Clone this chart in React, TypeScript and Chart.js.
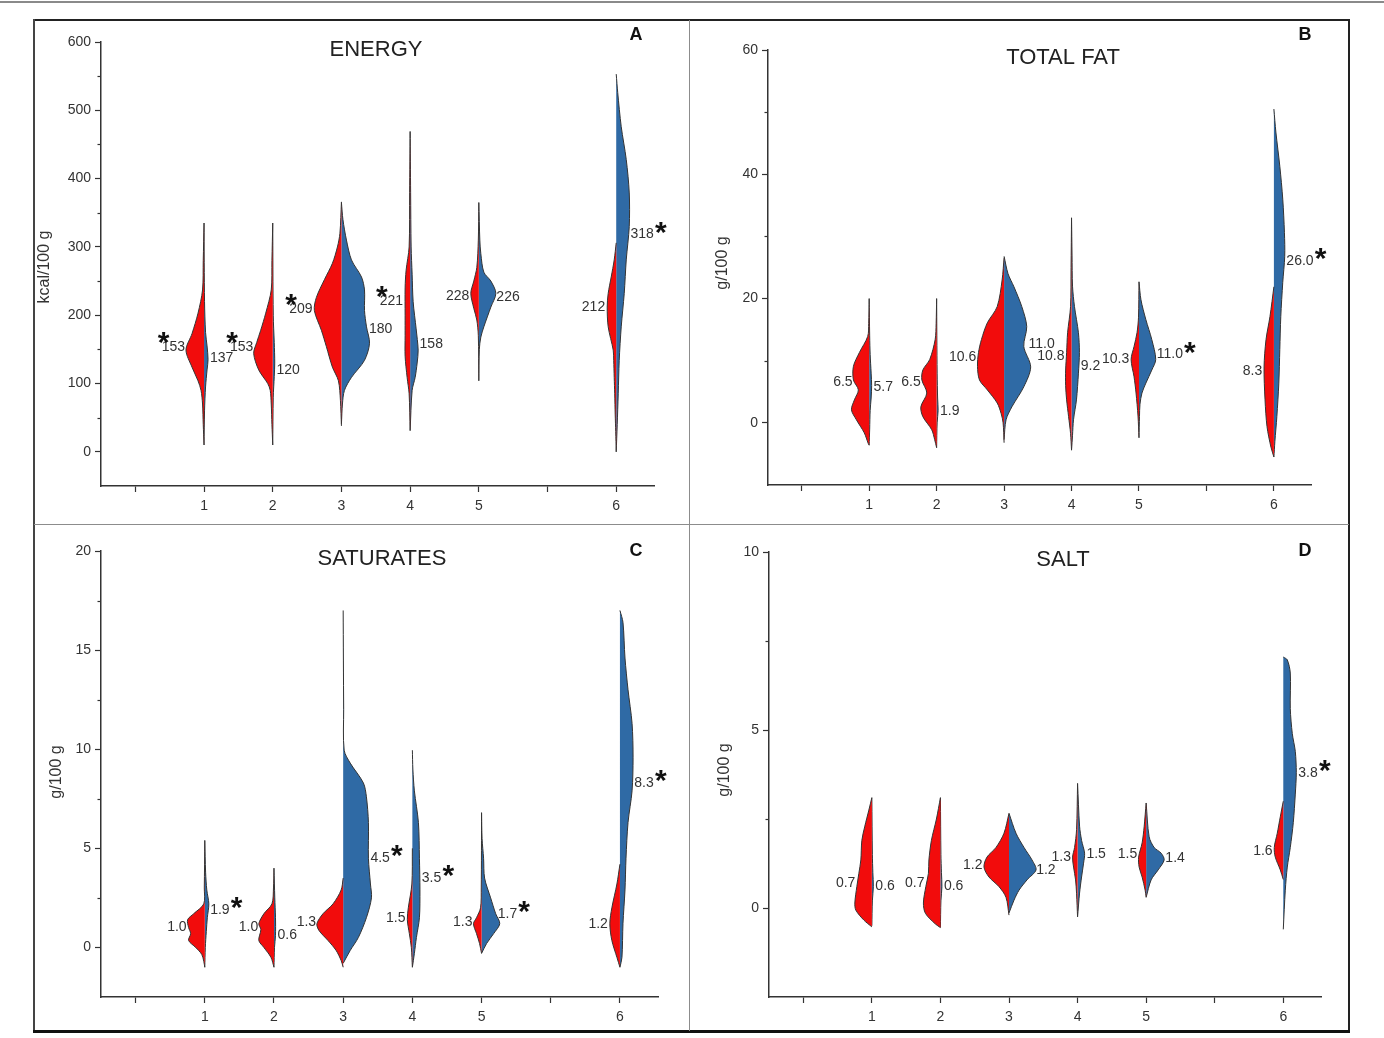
import { useEffect, useRef } from 'react';
import { Chart, registerables } from 'chart.js';

Chart.register(...registerables);

// ---------- shared axis data ----------
const X_TICKS = [0, 1, 2, 3, 4, 5, 6, 7];
const X_TICK_LABELS = ['', '1', '2', '3', '4', '5', '', '6'];
const CATEGORY_POSITIONS = [1, 2, 3, 4, 5, 7];
const DENSITY_PER_CATEGORY = 68.5;

// ---------- A: ENERGY (kcal/100 g) ----------
const energyTicks = [0, 100, 200, 300, 400, 500, 600];
const energyMinor = [50, 150, 250, 350, 450, 550];
const energyRed = [
  [[10, 0], [40, 0.8], [70, 1.5], [90, 3], [104, 6], [124, 12], [149, 18], [173, 12], [203, 6], [237, 1.5], [280, 0.8], [335, 0]],
  [[10, 0], [40, 0.8], [70, 1.5], [90, 2.5], [100, 5], [120, 14], [144, 19], [160, 16], [178, 12], [203, 7], [237, 1.5], [280, 0.8], [335, 0]],
  [[38, 0], [75, 1], [104, 3], [124, 9], [154, 15], [178, 20], [207, 27], [226, 25], [252, 17], [276, 9], [300, 4], [320, 1.5], [366, 0]],
  [[31, 0], [85, 1], [109, 3], [140, 5], [170, 5], [200, 5], [240, 5], [266, 4], [300, 1], [380, 0.5], [469, 0]],
  [[104, 0], [170, 0.5], [193, 2], [210, 5], [232, 8], [250, 5], [270, 2], [310, 0.5], [365, 0]],
  [[0, 0], [30, 0.5], [54, 1], [85, 1.5], [109, 2], [134, 2.5], [149, 3], [183, 8], [212, 9], [232, 8], [256, 5], [281, 2], [306, 0]],
];
const energyBlue = [
  [[10, 0], [60, 0.5], [95, 1.5], [120, 3], [135, 4], [155, 3], [175, 1.5], [220, 0.5], [335, 0]],
  [[10, 0], [80, 0.5], [110, 1.5], [130, 2], [160, 1.5], [200, 0.5], [335, 0]],
  [[41, 0], [70, 1], [90, 3], [109, 10], [134, 23], [159, 28], [183, 25], [207, 23], [237, 23], [256, 20], [281, 10], [310, 5], [340, 1.5], [365, 0]],
  [[31, 0], [90, 2], [109, 5], [130, 7], [149, 8], [180, 6], [220, 3], [260, 2], [300, 1], [380, 0.5], [469, 0]],
  [[104, 0], [150, 0.5], [168, 2], [183, 5], [212, 12], [232, 17], [250, 12], [263, 5], [290, 2], [310, 1], [365, 0]],
  [[0, 0], [40, 1], [85, 2], [134, 3], [183, 5], [232, 8], [281, 10], [330, 13], [379, 13], [428, 10], [476, 5], [526, 1.5], [553, 0]],
];
const energyRedMedian = [153, 153, 209, 221, 228, 212];
const energyBlueMedian = [137, 120, 180, 158, 226, 318];
const energyRedStar = [true, true, true, true, false, false];
const energyBlueStar = [false, false, false, false, false, true];

// ---------- B: TOTAL FAT (g/100 g) ----------
const fatTicks = [0, 20, 40, 60];
const fatMinor = [10, 30, 50];
const fatRed = [
  [[-3.6, 0], [-3.3, 1], [-1.6, 5], [0.5, 13], [2.1, 18], [3.7, 15], [5.3, 11], [6.9, 16], [9.1, 16], [11.3, 10], [13.9, 1.5], [16, 0.5], [20, 0]],
  [[-4, 0], [-2.7, 2], [-1.1, 5], [1.0, 14], [2.6, 16], [4.8, 10], [6.9, 15], [8.5, 14], [10.2, 7], [13.4, 1.5], [16, 0.5], [20, 0]],
  [[-3.2, 0], [0, 1], [1.5, 3], [3.2, 7], [5.3, 17], [6.9, 25], [9.1, 27], [11.3, 26], [13.4, 23], [16.1, 17], [18.7, 7], [23, 2], [26.6, 0]],
  [[-4.4, 0], [-1.7, 1], [1, 3], [3.7, 5], [6, 6], [8.5, 6], [11.3, 5], [14.5, 4], [18.7, 1], [25, 0.5], [33, 0]],
  [[-2.4, 0], [1.1, 1], [4.8, 3], [7.4, 5], [10.2, 8], [12.3, 5], [14.5, 2], [17, 0.5], [22.7, 0]],
  [[-5.5, 0], [-3.9, 3], [-0.6, 7], [3.7, 9], [9.0, 10], [13.4, 8], [17.1, 4], [21.9, 0]],
];
const fatBlue = [
  [[-3.6, 0], [-1, 0.5], [2, 1], [4, 2], [6, 2.5], [8, 2], [11, 1], [14, 0.5], [20, 0]],
  [[-4, 0], [0, 0.5], [2, 1.5], [4, 1], [8, 0.5], [20, 0]],
  [[-2.7, 0], [0.5, 2], [2.6, 8], [5.8, 20], [9.0, 27], [12.3, 20], [15.5, 23], [18.7, 18], [21.9, 10], [24, 4], [26.8, 0]],
  [[-4.4, 0], [-2, 1], [0.5, 2], [3.7, 5], [8, 7], [11.3, 8], [14.5, 7], [18.7, 3], [22, 1], [27, 0.5], [33, 0]],
  [[-2.4, 0], [1, 0.5], [3, 1], [4.8, 3], [6.4, 7], [8.5, 13], [10.2, 17], [13.4, 13], [16.6, 7], [19.8, 2], [22.7, 0]],
  [[-5.5, 0], [-3, 1], [1, 3], [6.4, 5], [11.8, 6], [17.1, 7], [22.6, 9], [26.8, 11], [30.6, 10.7], [36, 9], [41.3, 6], [46.8, 2], [50.5, 0]],
];
const fatRedMedian = [6.5, 6.5, 10.6, 10.8, 10.3, 8.3];
const fatBlueMedian = [5.7, 1.9, 11.0, 9.2, 11.0, 26.0];
const fatRedStar = [false, false, false, false, false, false];
const fatBlueStar = [false, false, false, false, true, true];

// ---------- C: SATURATES (g/100 g) ----------
const satTicks = [0, 5, 10, 15, 20];
const satMinor = [2.5, 7.5, 12.5, 17.5];
const satRed = [
  [[-1, 0], [-0.7, 1], [-0.35, 3], [0, 9], [0.35, 16], [0.7, 14], [1.0, 16], [1.4, 17], [1.7, 11], [2.2, 1], [3, 0.5], [5.4, 0]],
  [[-1, 0], [-0.5, 3], [0, 10], [0.35, 15], [0.9, 13], [1.2, 15], [1.7, 10], [2.2, 2], [3, 0.5], [4, 0]],
  [[-1, 0], [-0.66, 2], [-0.15, 7], [0.35, 15], [0.86, 24], [1.2, 26], [1.7, 20], [2.2, 10], [2.9, 2], [3.5, 0]],
  [[-1, 0], [0, 1], [0.7, 3], [1.4, 5], [2.0, 4], [3.2, 0.5], [5, 0]],
  [[-0.3, 0], [0.2, 2], [0.7, 5], [1.2, 8], [1.5, 5], [2.0, 1], [3, 0.3], [6.8, 0]],
  [[-1, 0], [-0.5, 3], [0.35, 8], [1.2, 10], [2.0, 8], [3.2, 3], [4.2, 0]],
];
const satBlue = [
  [[-1, 0], [0, 0.5], [0.8, 1.5], [1.5, 2.5], [2.2, 4], [2.9, 2], [3.8, 0.8], [5.4, 0]],
  [[-1, 0], [0, 0.5], [0.6, 1.5], [1.5, 1.5], [2.5, 0.8], [4, 0]],
  [[-0.8, 0], [-0.15, 7], [0.5, 15], [1.5, 23], [2.5, 28], [3.2, 27], [4.5, 25], [6.3, 25], [7.6, 23], [8.3, 20], [9.3, 7], [9.95, 1], [12, 0.5], [17, 0]],
  [[-1, 0], [-0.3, 2], [0.5, 4], [1.5, 7], [2.9, 7.5], [4.5, 7], [6.3, 6], [7.9, 2], [9, 0.5], [9.95, 0]],
  [[-0.3, 0], [0.2, 5], [0.7, 12], [1.2, 18], [1.7, 14], [2.5, 9], [3.5, 3], [4.5, 2], [5.5, 0.5], [6.8, 0]],
  [[-1, 0], [-0.5, 2], [1.2, 3], [2.9, 5], [4.5, 6], [6.3, 8], [7.9, 12], [9.6, 13], [11.3, 12], [13, 8], [14.6, 5], [16.4, 3], [17, 0]],
];
const satRedMedian = [1.0, 1.0, 1.3, 1.5, 1.3, 1.2];
const satBlueMedian = [1.9, 0.6, 4.5, 3.5, 1.7, 8.3];
const satRedStar = [false, false, false, false, false, false];
const satBlueStar = [true, false, true, true, true, true];

// ---------- D: SALT (g/100 g) ----------
const saltTicks = [0, 5, 10];
const saltMinor = [2.5, 7.5];
const saltRed = [
  [[-0.53, 0], [-0.34, 8], [-0.06, 16], [0.14, 17], [0.6, 15], [0.97, 13], [1.35, 11], [1.9, 10], [2.3, 7], [2.75, 3], [3.1, 0]],
  [[-0.55, 0], [-0.45, 5], [-0.15, 15], [0.14, 17], [0.6, 14.6], [0.97, 12], [1.35, 11.5], [1.9, 9], [2.5, 4], [3.1, 0]],
  [[-0.2, 0], [0.3, 3], [0.6, 10], [0.87, 20], [1.15, 25], [1.43, 22], [1.7, 13], [2.1, 5], [2.66, 0]],
  [[-0.25, 0], [0.4, 1], [0.79, 2], [1.15, 4], [1.43, 5], [1.7, 3], [2.2, 1], [3.5, 0]],
  [[0.3, 0], [0.5, 1], [0.87, 4], [1.15, 7], [1.43, 7.5], [1.83, 4], [2.28, 2], [2.95, 0]],
  [[0.8, 0], [1.07, 3], [1.43, 8], [1.7, 9], [2.1, 6], [2.56, 3], [3.0, 0]],
];
const saltBlue = [
  [[-0.5, 0], [0.2, 0.5], [0.6, 1.5], [1.0, 1], [1.5, 0.5], [3.1, 0]],
  [[-0.55, 0], [0.2, 0.5], [0.6, 1.5], [1.0, 1], [1.5, 0.5], [3.1, 0]],
  [[-0.14, 0], [0.22, 5], [0.5, 10], [0.79, 18], [1.07, 27], [1.35, 23], [1.7, 15], [2.1, 7], [2.66, 0]],
  [[-0.25, 0], [0.42, 2], [0.87, 4], [1.26, 6], [1.54, 7], [1.9, 4], [2.3, 2], [3.5, 0]],
  [[0.3, 0], [0.79, 5], [1.07, 12], [1.35, 18], [1.54, 15], [1.7, 8], [2.0, 3], [2.95, 0]],
  [[-0.6, 0], [0.5, 2], [1.15, 4], [1.7, 7], [2.4, 10], [3.2, 12], [3.8, 13], [4.4, 12], [4.9, 9], [5.6, 7], [6.6, 7], [6.97, 4], [7.05, 0]],
];
const saltRedMedian = [0.7, 0.7, 1.2, 1.3, 1.5, 1.6];
const saltBlueMedian = [0.6, 0.6, 1.2, 1.5, 1.4, 3.8];
const saltRedStar = [false, false, false, false, false, false];
const saltBlueStar = [false, false, false, false, false, true];

// ---------- styling ----------
const FONT = '"Liberation Sans", Arial, Helvetica, sans-serif';
const RED = '#f20c0c';
const BLUE = '#2f6aa5';
const OUTLINE = '#333333';
const AXIS = '#333333';
const TEXT = '#333333';

type Shape = number[][];
type Panel = {
  title: string; letter: string; yTitle: string;
  yMin: number; yMax: number; ticks: number[]; minor: number[];
  red: Shape[]; blue: Shape[];
  redMed: number[]; blueMed: number[]; redStar: boolean[]; blueStar: boolean[];
  decimals: number;
  box: { left: number; top: number; width: number; height: number };
  area: { left: number; right: number; top: number; bottom: number };
  titleX: number; letterX: number; letterY: number; yTitleX: number; yTitleY: number;
  redDy: number[]; blueDy: number[];
};

const PANELS: Panel[] = [
  {
    title: 'ENERGY', letter: 'A', yTitle: 'kcal/100 g', yMin: -50, yMax: 600,
    ticks: energyTicks, minor: energyMinor, red: energyRed, blue: energyBlue,
    redMed: energyRedMedian, blueMed: energyBlueMedian, redStar: energyRedStar, blueStar: energyBlueStar,
    decimals: 0,
    box: { left: 35, top: 21, width: 654, height: 503 },
    area: { left: 66, right: 619, top: 21, bottom: 465 },
    titleX: 341, letterX: 601, letterY: 14, yTitleX: 10, yTitleY: 246,
    redDy: [0, 0, 0, 0, 0, 0], blueDy: [0, 0, 0, 0, 0, 0],
  },
  {
    title: 'TOTAL FAT', letter: 'B', yTitle: 'g/100 g', yMin: -10, yMax: 60,
    ticks: fatTicks, minor: fatMinor, red: fatRed, blue: fatBlue,
    redMed: fatRedMedian, blueMed: fatBlueMedian, redStar: fatRedStar, blueStar: fatBlueStar,
    decimals: 1,
    box: { left: 691, top: 21, width: 657, height: 503 },
    area: { left: 77, right: 620, top: 29, bottom: 464 },
    titleX: 372, letterX: 614, letterY: 14, yTitleX: 32, yTitleY: 242,
    redDy: [0, 0, 0, 0, 0, 0], blueDy: [0, 0, -10, 0, 0, 0],
  },
  {
    title: 'SATURATES', letter: 'C', yTitle: 'g/100 g', yMin: -2.5, yMax: 20,
    ticks: satTicks, minor: satMinor, red: satRed, blue: satBlue,
    redMed: satRedMedian, blueMed: satBlueMedian, redStar: satRedStar, blueStar: satBlueStar,
    decimals: 1,
    box: { left: 35, top: 526, width: 654, height: 504 },
    area: { left: 66, right: 623, top: 25, bottom: 471 },
    titleX: 347, letterX: 601, letterY: 25, yTitleX: 22, yTitleY: 246,
    redDy: [0, 0, 0, 0, 0, 0], blueDy: [0, 0, 0, 0, 0, 0],
  },
  {
    title: 'SALT', letter: 'D', yTitle: 'g/100 g', yMin: -2.5, yMax: 10,
    ticks: saltTicks, minor: saltMinor, red: saltRed, blue: saltBlue,
    redMed: saltRedMedian, blueMed: saltBlueMedian, redStar: saltRedStar, blueStar: saltBlueStar,
    decimals: 1,
    box: { left: 691, top: 526, width: 657, height: 504 },
    area: { left: 78, right: 630, top: 26, bottom: 471 },
    titleX: 372, letterX: 614, letterY: 25, yTitleX: 34, yTitleY: 244,
    redDy: [0, 0, 0, -5, 0, 0], blueDy: [0, 0, 5, 0, 0, 0],
  },
];

function halfWidthAt(shape: Shape, v: number): number {
  for (let i = 0; i < shape.length - 1; i++) {
    const [y0, w0] = shape[i];
    const [y1, w1] = shape[i + 1];
    if (v >= y0 && v <= y1) {
      return y1 === y0 ? Math.max(w0, w1) : w0 + ((w1 - w0) * (v - y0)) / (y1 - y0);
    }
  }
  return 0;
}

function violinDataset(shape: Shape, center: number, side: number, color: string) {
  return {
    type: 'line' as const,
    data: shape.map(([v, w]) => ({ x: center + (side * w) / DENSITY_PER_CATEGORY, y: v })),
    borderColor: OUTLINE,
    borderWidth: 1,
    backgroundColor: color,
    fill: 'shape' as any,
    pointRadius: 0,
    pointHoverRadius: 0,
    tension: 0.3,
  };
}

function drawStar(ctx: CanvasRenderingContext2D, cx: number, cy: number) {
  ctx.save();
  ctx.font = `bold 30px ${FONT}`;
  ctx.textAlign = 'center';
  ctx.textBaseline = 'alphabetic';
  ctx.fillStyle = '#111';
  ctx.fillText('*', cx, cy + 17);
  ctx.restore();
}

function annotationPlugin(p: Panel) {
  return {
    id: 'annotations' + p.letter,
    afterDraw(chart: any) {
      const { ctx, chartArea: a, scales } = chart;
      const xs = scales.x;
      const ys = scales.y;
      ctx.save();
      // minor ticks
      ctx.strokeStyle = AXIS;
      ctx.lineWidth = 1.2;
      p.minor.forEach((v) => {
        const py = Math.round(ys.getPixelForValue(v)) + 0.5;
        ctx.beginPath();
        ctx.moveTo(a.left - 3.5, py);
        ctx.lineTo(a.left, py);
        ctx.stroke();
      });
      // title
      ctx.fillStyle = '#222';
      ctx.textAlign = 'center';
      ctx.textBaseline = 'middle';
      ctx.font = `22px ${FONT}`;
      ctx.fillText(p.title, p.titleX, a.top + 8);
      // panel letter
      ctx.font = `bold 18px ${FONT}`;
      ctx.fillStyle = '#111';
      ctx.fillText(p.letter, p.letterX, p.letterY);
      // y title
      ctx.save();
      ctx.translate(p.yTitleX, p.yTitleY);
      ctx.rotate(-Math.PI / 2);
      ctx.font = `16px ${FONT}`;
      ctx.fillStyle = TEXT;
      ctx.fillText(p.yTitle, 0, 0);
      ctx.restore();
      // median labels and stars
      ctx.textBaseline = 'middle';
      const fmt = (v: number) => (p.decimals === 0 ? String(Math.round(v)) : v.toFixed(1));
      CATEGORY_POSITIONS.forEach((c, i) => {
        const rm = p.redMed[i];
        const ry = ys.getPixelForValue(rm) + p.redDy[i];
        const rx = xs.getPixelForValue(c - halfWidthAt(p.red[i], rm) / DENSITY_PER_CATEGORY) - 2;
        const rt = fmt(rm);
        ctx.font = `14px ${FONT}`;
        ctx.textAlign = 'right';
        ctx.fillStyle = TEXT;
        ctx.fillText(rt, rx, ry);
        if (p.redStar[i]) {
          const wdt = ctx.measureText(rt).width;
          drawStar(ctx, rx - wdt + 2, ry - 12);
        }
        const bm = p.blueMed[i];
        const by = ys.getPixelForValue(bm) + p.blueDy[i];
        const bx = xs.getPixelForValue(c + halfWidthAt(p.blue[i], bm) / DENSITY_PER_CATEGORY) + 2;
        const bt = fmt(bm);
        ctx.font = `14px ${FONT}`;
        ctx.textAlign = 'left';
        ctx.fillStyle = TEXT;
        ctx.fillText(bt, bx, by);
        if (p.blueStar[i]) {
          const wdt = ctx.measureText(bt).width;
          drawStar(ctx, bx + wdt + 7, by - 10);
        }
      });
      ctx.restore();
    },
  };
}

function buildConfig(p: Panel): any {
  const datasets: any[] = [];
  CATEGORY_POSITIONS.forEach((c, i) => {
    datasets.push(violinDataset(p.red[i], c, -1, RED));
    datasets.push(violinDataset(p.blue[i], c, 1, BLUE));
  });
  const tickFont = { family: FONT, size: 14 };
  return {
    type: 'line',
    data: { datasets },
    plugins: [annotationPlugin(p)],
    options: {
      responsive: false,
      animation: false,
      events: [],
      layout: { padding: { left: 0, top: p.area.top, right: p.box.width - p.area.right, bottom: 0 } },
      plugins: { legend: { display: false }, tooltip: { enabled: false }, title: { display: false } },
      scales: {
        x: {
          type: 'linear',
          min: -0.5,
          max: 7.55,
          afterBuildTicks: (s: any) => { s.ticks = X_TICKS.map((v) => ({ value: v })); },
          afterFit: (s: any) => { s.height = p.box.height - p.area.bottom; },
          ticks: {
            callback: (_v: any, i: number) => X_TICK_LABELS[i],
            font: tickFont, color: TEXT, padding: 6, maxRotation: 0, autoSkip: false,
          },
          grid: { drawOnChartArea: false, drawTicks: true, tickLength: 6, tickColor: AXIS, tickWidth: 1.2 },
          border: { display: true, color: AXIS, width: 1.5 },
        },
        y: {
          type: 'linear',
          min: p.yMin,
          max: p.yMax,
          afterBuildTicks: (s: any) => { s.ticks = p.ticks.map((v) => ({ value: v })); },
          afterFit: (s: any) => { s.width = p.area.left; },
          ticks: { font: tickFont, color: TEXT, padding: 4 },
          grid: { drawOnChartArea: false, drawTicks: true, tickLength: 6, tickColor: AXIS, tickWidth: 1.2 },
          border: { display: true, color: AXIS, width: 1.5 },
        },
      },
    },
  };
}

function PanelChart({ p }: { p: Panel }) {
  const ref = useRef<HTMLCanvasElement>(null);
  useEffect(() => {
    if (!ref.current) return;
    const chart = new Chart(ref.current, buildConfig(p));
    return () => chart.destroy();
  }, [p]);
  return (
    <canvas
      ref={ref}
      width={p.box.width}
      height={p.box.height}
      style={{ position: 'absolute', left: p.box.left, top: p.box.top, width: p.box.width, height: p.box.height }}
    />
  );
}

const line = (left: number, top: number, width: number, height: number, color: string) => (
  <div style={{ position: 'absolute', left, top, width, height, background: color }} />
);

export default function App() {
  return (
    <div style={{ position: 'absolute', left: 0, top: 0, width: 1384, height: 1038, background: '#fff', overflow: 'hidden' }}>
      {PANELS.map((p) => (
        <PanelChart key={p.letter} p={p} />
      ))}
      {line(0, 1, 1384, 2, '#8a8a8a')}
      {line(33, 19, 1317, 2, '#222')}
      {line(33, 19, 2, 1014, '#444')}
      {line(1348, 19, 2, 1014, '#222')}
      {line(33, 1030, 1317, 3, '#111')}
      {line(689, 20, 1, 1011, '#8c8c8c')}
      {line(34, 524, 1315, 1, '#8c8c8c')}
    </div>
  );
}
